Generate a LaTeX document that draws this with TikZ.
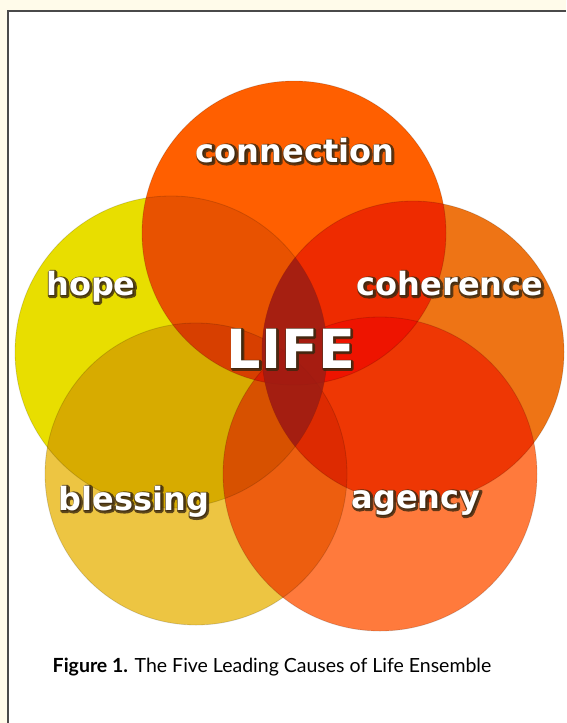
\documentclass[tikz,border=0pt]{standalone}
\usepackage{fontspec}
\usepackage{tikz}
\usetikzlibrary{calc}
\newfontfamily\wordfont{DejaVu Sans}
\newfontfamily\capfont{Lato}

\definecolor{cream}{HTML}{FFFBEA}
\definecolor{framegray}{HTML}{4A4A4A}
\definecolor{conn}{HTML}{FF5F00}
\definecolor{hopey}{HTML}{E8DE00}
\definecolor{coher}{HTML}{EE7415}
\definecolor{bless}{HTML}{EDC542}
\definecolor{agen}{HTML}{FF7A3C}
\definecolor{core}{HTML}{9E1E14}
\definecolor{halo}{HTML}{3A2810}

\tikzset{
  ring/.style = {fill=#1, draw=black, draw opacity=0.15, line width=0.8pt},
  word/.style = {font=\wordfont\bfseries\fontsize{32}{32}\selectfont, text=white, inner sep=0pt, anchor=base},
  bigword/.style = {word, font=\wordfont\bfseries\fontsize{54}{54}\selectfont},
  rim/.style = {text=halo, execute at begin node={\addfontfeature{FakeBold=#1}}},
  caption/.style = {font=\capfont\fontsize{19.5}{22}\selectfont, anchor=base, inner sep=0pt}
}

% white word on top of a fattened dark copy of itself
\newcommand{\rimword}[5][word]{%
  \begin{scope}[opacity=0.8, line join=round]
    \node[#1, rim=#5] (#2-rim) at ($(#3)+(0.8,1.2)$) {#4};
  \end{scope}
  \node[#1] (#2) at (#3) {#4};}

\begin{document}
\begin{tikzpicture}[x=1pt, y=-1pt]
    \useasboundingbox (0,0) rectangle (566,723);
    \fill[cream] (0,0) rectangle (566,723);
    \fill[white] (8,11) rectangle (566,723);
    \draw[framegray, line width=1.2pt] (8,723) -- (8,11) -- (566,11);

    % circle centres
    \coordinate (cConn) at (294,233);
    \coordinate (cHope) at (171,352);
    \coordinate (cCoh)  at (413,352);
    \coordinate (cBless) at (196,474);
    \coordinate (cAg)   at (380,474);

    \begin{scope}[blend mode=multiply]
        \filldraw[ring=hopey] (cHope) circle (156);
        \filldraw[ring=bless] (cBless) circle (151);
        \filldraw[ring=agen] (cAg) circle (157);
        \filldraw[ring=coher] (cCoh) circle (151);
        \filldraw[ring=conn] (cConn) circle (152);
    \end{scope}

    % dark lens where hope and coherence meet
    \begin{scope}
        \clip (cHope) circle (156);
        \fill[core, opacity=0.85] (cCoh) circle (151);
    \end{scope}

    \rimword{connection}{295,162}{connection}{12}
    \rimword{hope}{91,295}{hope}{12}
    \rimword{coherence}{450,295}{coherence}{12}
    \rimword{blessing}{134,510}{blessing}{12}
    \rimword{agency}{416,508}{agency}{12}
    \rimword[bigword]{life}{291,368}{LIFE}{6}

    \node[caption] (cap) at (272,672) {{\bfseries Figure 1.} The Five Leading Causes of Life Ensemble};
\end{tikzpicture}
\end{document}
